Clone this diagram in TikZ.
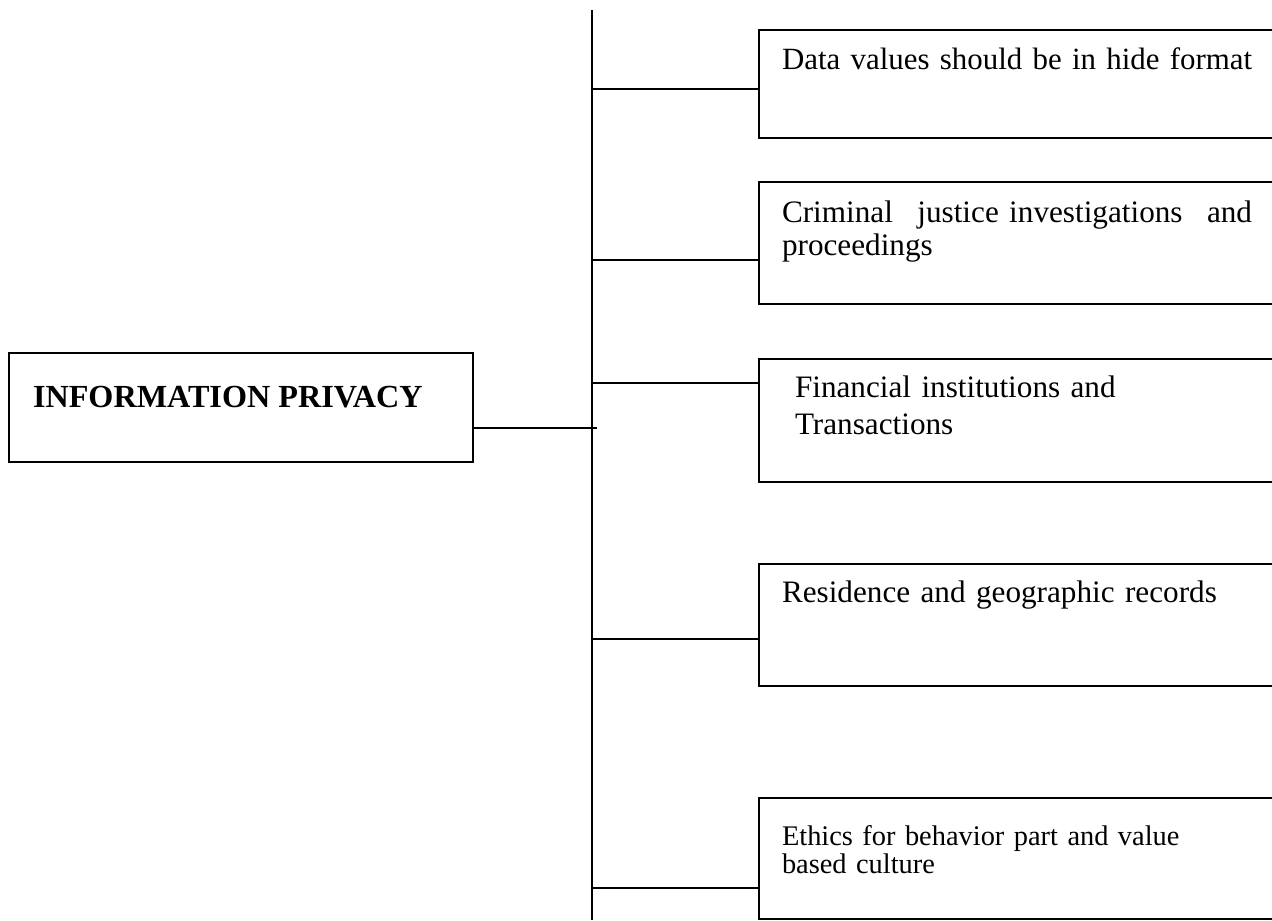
\documentclass[tikz,border=0pt]{standalone}
\usepackage{fontspec}
\setmainfont{Liberation Serif}

\begin{document}
\begin{tikzpicture}[x=0.5pt, y=-0.5pt, line width=1pt,
    box/.style={draw, anchor=north west, inner sep=0pt, minimum width=266pt},
    itemtext/.style={anchor=base west, inner sep=0pt, text width=250pt, align=left,
        font=\fontsize{15.6}{16.5}\selectfont}]
    \useasboundingbox (0,0) rectangle (1272,920);

    % left box
    \node[box, minimum width=232pt, minimum height=54.5pt] (privacy) at (8,352) {};
    \node[anchor=base west, inner sep=0pt, font=\fontsize{16.1}{18}\selectfont\bfseries]
        (privacytext) at (32,407) {INFORMATION PRIVACY};

    % right boxes
    \node[box, minimum height=54pt] (data) at (758,29) {};
    \node[box, minimum height=61pt] (crime) at (758,181) {};
    \node[box, minimum height=61.5pt] (finance) at (758,358) {};
    \node[box, minimum height=61pt] (residence) at (758,563) {};
    \node[box, minimum height=60.5pt] (ethics) at (758,797) {};

    \node[itemtext, font=\fontsize{15.45}{16.5}\selectfont] (datatext) at (781,69)
        {Data values should be in hide format};
    \node[itemtext, text width=235pt] (crimetext) at (781,222)
        {Criminal\hfill justice investigations\hfill and\\proceedings};
    \node[itemtext, font=\fontsize{15.6}{18.5}\selectfont] (financetext) at (794,397)
        {Financial institutions and\\Transactions};
    \node[itemtext] (residencetext) at (781,602) {Residence and geographic records};
    \node[itemtext, font=\fontsize{14.2}{14}\selectfont] (ethicstext) at (781,845)
        {Ethics for behavior part and value\\based culture};

    % spine and branches
    \coordinate (spinetop) at (592,10);
    \coordinate (spinebot) at (592,920);
    \draw (spinetop) -- (spinebot);

    \coordinate (hub) at (597,428);
    \draw (privacy.east |- hub) -- (hub);

    \foreach \b/\y in {data/89, crime/260, finance/383, residence/639, ethics/888} {
        \coordinate (\b-joint) at (spinetop |- 0,\y);
        \draw (\b-joint) -- (\b-joint -| \b.west);
    }
\end{tikzpicture}
\end{document}
